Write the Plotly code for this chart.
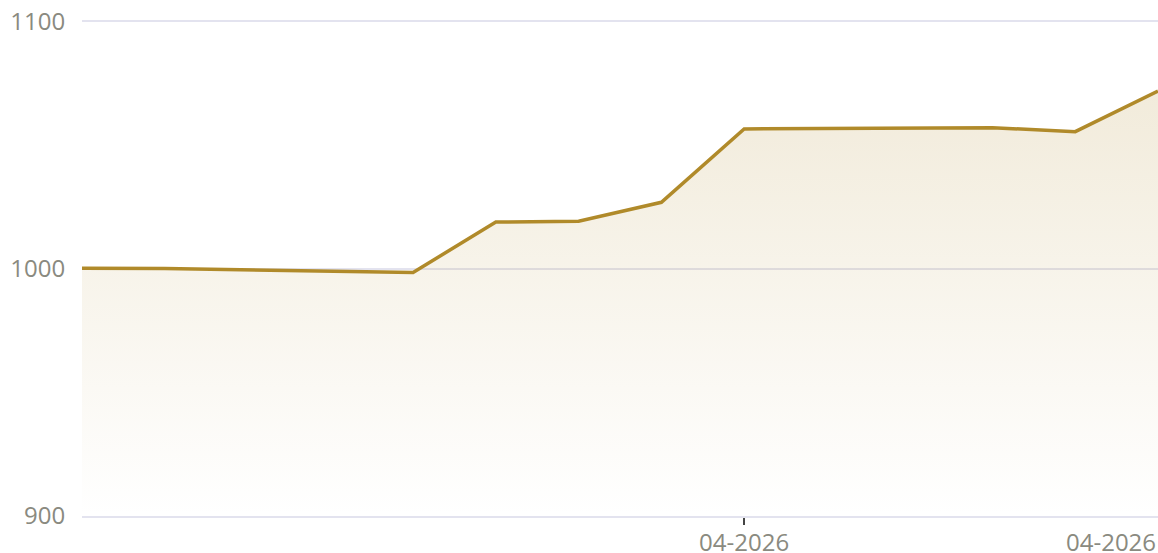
import plotly.graph_objects as go

dates = ["2026-03-24", "2026-03-25", "2026-03-28", "2026-03-29", "2026-03-30",
         "2026-03-31", "2026-04-01", "2026-04-04", "2026-04-05", "2026-04-06"]
values = [1000.3, 1000.2, 998.6, 1019.0, 1019.3, 1027.0, 1056.7, 1057.2, 1055.6, 1072.0]
y_ticks = [900, 1000, 1100]
x_tick_vals = ["2026-04-01"]
x_tick_text = ["04-2026"]
end_label = "04-2026"

LINE = "#b08a2a"
LABEL = "#8a8a80"
GRID = "#e3e3ef"
FONT = "Open Sans"
FS = 24

fig = go.Figure()
fig.add_trace(go.Scatter(
    x=dates, y=values, mode="lines",
    line=dict(color=LINE, width=3.5),
    fill="tozeroy",
    fillgradient=dict(type="vertical", start=900, stop=1072,
                      colorscale=[[0, "rgba(176,138,42,0.0)"],
                                  [1, "rgba(176,138,42,0.17)"]]),
    hoverinfo="skip",
))

fig.update_layout(
    width=1158, height=553,
    margin=dict(l=82, r=0, t=22, b=37, autoexpand=False),
    plot_bgcolor="white", paper_bgcolor="white",
    showlegend=False,
    font=dict(family=FONT, size=FS, color=LABEL),
)
fig.update_xaxes(
    type="date", range=[dates[0], dates[-1]],
    tickvals=x_tick_vals, ticktext=x_tick_text,
    ticks="outside", ticklen=7, tickwidth=1.5, tickcolor="#444",
    ticklabelstandoff=-3,
    showgrid=False, showline=True, mirror=True, linecolor=GRID, linewidth=1.5,
    tickfont=dict(family=FONT, size=FS, color=LABEL),
    zeroline=False, automargin=False, ticklabeloverflow="allow",
)
fig.update_yaxes(
    range=[900, 1100], tickvals=y_ticks,
    ticks="outside", ticklen=11, tickcolor="rgba(0,0,0,0)",
    showgrid=True, gridcolor=GRID, gridwidth=1.5,
    showline=False, zeroline=False, automargin=False,
    ticklabeloverflow="allow",
    tickfont=dict(family=FONT, size=FS, color=LABEL),
)
fig.add_annotation(
    x=1, xref="paper", xanchor="right",
    y=0, yref="paper", yanchor="top", yshift=-7,
    text=end_label, showarrow=False,
    font=dict(family=FONT, size=FS, color=LABEL),
)
fig.write_html(
    "out.html",
    config={"displayModeBar": False},
    post_script="document.body.style.margin='0';document.body.style.overflow='hidden';",
)
